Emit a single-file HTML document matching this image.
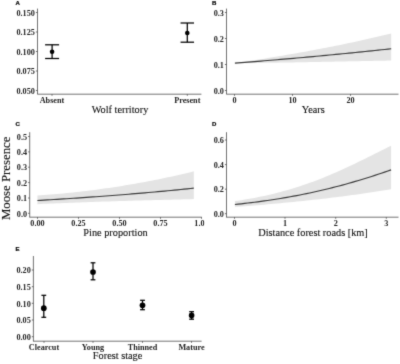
<!DOCTYPE html>
<html><head><meta charset="utf-8"><title>Figure</title>
<style>html,body{margin:0;padding:0;background:#fff;}svg{display:block;}</style></head>
<body><svg width="400" height="364" viewBox="0 0 400 364">
<defs><filter id="soft" x="0" y="0" width="400" height="364" filterUnits="userSpaceOnUse" color-interpolation-filters="sRGB"><feConvolveMatrix order="3" kernelMatrix="1 4 1 4 28 4 1 4 1" divisor="48" edgeMode="duplicate" preserveAlpha="true"/></filter></defs>
<rect width="400" height="364" fill="#fff"/>
<g filter="url(#soft)">
<rect width="400" height="364" fill="#fff"/>
<text x="15.5" y="5.3" font-size="6.05" text-anchor="start" font-weight="bold" font-family='"Liberation Sans", sans-serif' fill="#000" stroke="#000" stroke-width="0.2">A</text>
<text x="212" y="5.3" font-size="6.05" text-anchor="start" font-weight="bold" font-family='"Liberation Sans", sans-serif' fill="#000" stroke="#000" stroke-width="0.2">B</text>
<text x="15.5" y="126" font-size="6.05" text-anchor="start" font-weight="bold" font-family='"Liberation Sans", sans-serif' fill="#000" stroke="#000" stroke-width="0.2">C</text>
<text x="212" y="126" font-size="6.05" text-anchor="start" font-weight="bold" font-family='"Liberation Sans", sans-serif' fill="#000" stroke="#000" stroke-width="0.2">D</text>
<text x="15.5" y="251" font-size="6.05" text-anchor="start" font-weight="bold" font-family='"Liberation Sans", sans-serif' fill="#000" stroke="#000" stroke-width="0.2">E</text>
<line x1="37.5" y1="8.6" x2="37.5" y2="94" stroke="#444" stroke-width="0.75" />
<line x1="35.9" y1="12.5" x2="37.5" y2="12.5" stroke="#444" stroke-width="0.75" />
<text x="34.9" y="15.7" font-size="8.2" text-anchor="end" font-weight="bold" font-family='"Liberation Serif", serif' fill="#242424" >0.150</text>
<line x1="35.9" y1="32" x2="37.5" y2="32" stroke="#444" stroke-width="0.75" />
<text x="34.9" y="35.2" font-size="8.2" text-anchor="end" font-weight="bold" font-family='"Liberation Serif", serif' fill="#242424" >0.125</text>
<line x1="35.9" y1="51.5" x2="37.5" y2="51.5" stroke="#444" stroke-width="0.75" />
<text x="34.9" y="54.7" font-size="8.2" text-anchor="end" font-weight="bold" font-family='"Liberation Serif", serif' fill="#242424" >0.100</text>
<line x1="35.9" y1="71" x2="37.5" y2="71" stroke="#444" stroke-width="0.75" />
<text x="34.9" y="74.2" font-size="8.2" text-anchor="end" font-weight="bold" font-family='"Liberation Serif", serif' fill="#242424" >0.075</text>
<line x1="35.9" y1="90.5" x2="37.5" y2="90.5" stroke="#444" stroke-width="0.75" />
<text x="34.9" y="93.7" font-size="8.2" text-anchor="end" font-weight="bold" font-family='"Liberation Serif", serif' fill="#242424" >0.050</text>
<line x1="37.2" y1="94.2" x2="201.4" y2="94.2" stroke="#444" stroke-width="0.75" />
<line x1="52" y1="94.2" x2="52" y2="95.8" stroke="#444" stroke-width="0.75" />
<text x="52" y="102.7" font-size="8.2" text-anchor="middle" font-weight="bold" font-family='"Liberation Serif", serif' fill="#242424" >Absent</text>
<line x1="187.3" y1="94.2" x2="187.3" y2="95.8" stroke="#444" stroke-width="0.75" />
<text x="187.3" y="102.7" font-size="8.2" text-anchor="middle" font-weight="bold" font-family='"Liberation Serif", serif' fill="#242424" >Present</text>
<line x1="52.1" y1="44.8" x2="52.1" y2="58.5" stroke="#000" stroke-width="1.25" />
<line x1="45.1" y1="44.8" x2="59.1" y2="44.8" stroke="#000" stroke-width="1.25" />
<line x1="45.1" y1="58.5" x2="59.1" y2="58.5" stroke="#000" stroke-width="1.25" />
<circle cx="52.1" cy="51.8" r="2.3" fill="#000"/>
<line x1="187.3" y1="23" x2="187.3" y2="42.2" stroke="#000" stroke-width="1.25" />
<line x1="180.55" y1="23" x2="194.05" y2="23" stroke="#000" stroke-width="1.25" />
<line x1="180.55" y1="42.2" x2="194.05" y2="42.2" stroke="#000" stroke-width="1.25" />
<circle cx="187.3" cy="33" r="2.3" fill="#000"/>
<text transform="translate(120,112.8) scale(0.955,1)" font-size="10.8" text-anchor="middle" font-family='"Liberation Serif", serif' fill="#111" stroke="#111" stroke-width="0.12">Wolf territory</text>
<line x1="226.5" y1="8.6" x2="226.5" y2="94" stroke="#444" stroke-width="0.75" />
<line x1="224.9" y1="12.5" x2="226.5" y2="12.5" stroke="#444" stroke-width="0.75" />
<text x="223.9" y="15.7" font-size="8.2" text-anchor="end" font-weight="bold" font-family='"Liberation Serif", serif' fill="#242424" >0.3</text>
<line x1="224.9" y1="38.5" x2="226.5" y2="38.5" stroke="#444" stroke-width="0.75" />
<text x="223.9" y="41.7" font-size="8.2" text-anchor="end" font-weight="bold" font-family='"Liberation Serif", serif' fill="#242424" >0.2</text>
<line x1="224.9" y1="64.5" x2="226.5" y2="64.5" stroke="#444" stroke-width="0.75" />
<text x="223.9" y="67.7" font-size="8.2" text-anchor="end" font-weight="bold" font-family='"Liberation Serif", serif' fill="#242424" >0.1</text>
<line x1="224.9" y1="90.5" x2="226.5" y2="90.5" stroke="#444" stroke-width="0.75" />
<text x="223.9" y="93.7" font-size="8.2" text-anchor="end" font-weight="bold" font-family='"Liberation Serif", serif' fill="#242424" >0.0</text>
<line x1="226.2" y1="94.2" x2="398.5" y2="94.2" stroke="#444" stroke-width="0.75" />
<line x1="234.5" y1="94.2" x2="234.5" y2="95.8" stroke="#444" stroke-width="0.75" />
<text x="234.5" y="102.6" font-size="8.2" text-anchor="middle" font-weight="bold" font-family='"Liberation Serif", serif' fill="#242424" >0</text>
<line x1="292.5" y1="94.2" x2="292.5" y2="95.8" stroke="#444" stroke-width="0.75" />
<text x="292.5" y="102.6" font-size="8.2" text-anchor="middle" font-weight="bold" font-family='"Liberation Serif", serif' fill="#242424" >10</text>
<line x1="350.5" y1="94.2" x2="350.5" y2="95.8" stroke="#444" stroke-width="0.75" />
<text x="350.5" y="102.6" font-size="8.2" text-anchor="middle" font-weight="bold" font-family='"Liberation Serif", serif' fill="#242424" >20</text>
<path d="M234.90,62.85 L238.16,62.60 L241.41,62.35 L244.67,62.10 L247.93,61.35 L251.18,60.76 L254.44,60.22 L257.69,59.69 L260.95,59.16 L264.21,58.63 L267.46,58.11 L270.72,57.58 L273.98,57.05 L277.23,56.51 L280.49,55.97 L283.74,55.42 L287.00,54.87 L290.26,54.31 L293.51,53.75 L296.77,53.18 L300.02,52.60 L303.28,52.02 L306.54,51.43 L309.79,50.83 L313.05,50.22 L316.31,49.61 L319.56,49.00 L322.82,48.37 L326.07,47.74 L329.33,47.10 L332.59,46.45 L335.84,45.80 L339.10,45.13 L342.36,44.46 L345.61,43.79 L348.87,43.10 L352.12,42.41 L355.38,41.71 L358.64,41.00 L361.89,40.29 L365.15,39.57 L368.41,38.84 L371.66,38.10 L374.92,37.35 L378.17,36.60 L381.43,35.84 L384.69,35.07 L387.94,34.29 L391.20,33.51 L391.20,60.51 L387.94,60.57 L384.69,60.64 L381.43,60.71 L378.17,60.77 L374.92,60.84 L371.66,60.90 L368.41,60.97 L365.15,61.03 L361.89,61.10 L358.64,61.16 L355.38,61.22 L352.12,61.29 L348.87,61.35 L345.61,61.41 L342.36,61.48 L339.10,61.54 L335.84,61.60 L332.59,61.67 L329.33,61.73 L326.07,61.79 L322.82,61.85 L319.56,61.91 L316.31,61.97 L313.05,62.03 L309.79,62.09 L306.54,62.15 L303.28,62.21 L300.02,62.27 L296.77,62.32 L293.51,62.38 L290.26,62.43 L287.00,62.49 L283.74,62.54 L280.49,62.59 L277.23,62.64 L273.98,62.69 L270.72,62.74 L267.46,62.78 L264.21,62.82 L260.95,62.85 L257.69,62.87 L254.44,62.89 L251.18,62.88 L247.93,62.82 L244.67,62.60 L241.41,62.85 L238.16,63.10 L234.90,63.35Z" fill="#e4e4e4"/>
<path d="M234.90,63.10 L238.16,62.85 L241.41,62.60 L244.67,62.35 L247.93,62.09 L251.18,61.84 L254.44,61.58 L257.69,61.32 L260.95,61.06 L264.21,60.79 L267.46,60.52 L270.72,60.25 L273.98,59.98 L277.23,59.71 L280.49,59.43 L283.74,59.16 L287.00,58.88 L290.26,58.60 L293.51,58.31 L296.77,58.03 L300.02,57.74 L303.28,57.45 L306.54,57.15 L309.79,56.86 L313.05,56.56 L316.31,56.26 L319.56,55.96 L322.82,55.66 L326.07,55.35 L329.33,55.04 L332.59,54.73 L335.84,54.42 L339.10,54.10 L342.36,53.79 L345.61,53.47 L348.87,53.14 L352.12,52.82 L355.38,52.49 L358.64,52.16 L361.89,51.83 L365.15,51.50 L368.41,51.16 L371.66,50.82 L374.92,50.48 L378.17,50.14 L381.43,49.79 L384.69,49.45 L387.94,49.10 L391.20,48.74" fill="none" stroke="#3a3a3a" stroke-width="1.15"/>
<text transform="translate(313.3,112.6) scale(0.955,1)" font-size="10.8" text-anchor="middle" font-family='"Liberation Serif", serif' fill="#111" stroke="#111" stroke-width="0.12">Years</text>
<line x1="29.7" y1="132.2" x2="29.7" y2="217.2" stroke="#444" stroke-width="0.75" />
<line x1="28.099999999999998" y1="136.5" x2="29.7" y2="136.5" stroke="#444" stroke-width="0.75" />
<text x="27.099999999999998" y="139.7" font-size="8.2" text-anchor="end" font-weight="bold" font-family='"Liberation Serif", serif' fill="#242424" >0.5</text>
<line x1="28.099999999999998" y1="151.9" x2="29.7" y2="151.9" stroke="#444" stroke-width="0.75" />
<text x="27.099999999999998" y="155.1" font-size="8.2" text-anchor="end" font-weight="bold" font-family='"Liberation Serif", serif' fill="#242424" >0.4</text>
<line x1="28.099999999999998" y1="167.2" x2="29.7" y2="167.2" stroke="#444" stroke-width="0.75" />
<text x="27.099999999999998" y="170.39999999999998" font-size="8.2" text-anchor="end" font-weight="bold" font-family='"Liberation Serif", serif' fill="#242424" >0.3</text>
<line x1="28.099999999999998" y1="182.6" x2="29.7" y2="182.6" stroke="#444" stroke-width="0.75" />
<text x="27.099999999999998" y="185.79999999999998" font-size="8.2" text-anchor="end" font-weight="bold" font-family='"Liberation Serif", serif' fill="#242424" >0.2</text>
<line x1="28.099999999999998" y1="198" x2="29.7" y2="198" stroke="#444" stroke-width="0.75" />
<text x="27.099999999999998" y="201.2" font-size="8.2" text-anchor="end" font-weight="bold" font-family='"Liberation Serif", serif' fill="#242424" >0.1</text>
<line x1="28.099999999999998" y1="213.3" x2="29.7" y2="213.3" stroke="#444" stroke-width="0.75" />
<text x="27.099999999999998" y="216.5" font-size="8.2" text-anchor="end" font-weight="bold" font-family='"Liberation Serif", serif' fill="#242424" >0.0</text>
<line x1="29.4" y1="217.2" x2="201.8" y2="217.2" stroke="#444" stroke-width="0.75" />
<line x1="37.5" y1="217.2" x2="37.5" y2="218.79999999999998" stroke="#444" stroke-width="0.75" />
<text x="37.5" y="225.7" font-size="8.2" text-anchor="middle" font-weight="bold" font-family='"Liberation Serif", serif' fill="#242424" >0.00</text>
<line x1="78.5" y1="217.2" x2="78.5" y2="218.79999999999998" stroke="#444" stroke-width="0.75" />
<text x="78.5" y="225.7" font-size="8.2" text-anchor="middle" font-weight="bold" font-family='"Liberation Serif", serif' fill="#242424" >0.25</text>
<line x1="119.5" y1="217.2" x2="119.5" y2="218.79999999999998" stroke="#444" stroke-width="0.75" />
<text x="119.5" y="225.7" font-size="8.2" text-anchor="middle" font-weight="bold" font-family='"Liberation Serif", serif' fill="#242424" >0.50</text>
<line x1="160.5" y1="217.2" x2="160.5" y2="218.79999999999998" stroke="#444" stroke-width="0.75" />
<text x="160.5" y="225.7" font-size="8.2" text-anchor="middle" font-weight="bold" font-family='"Liberation Serif", serif' fill="#242424" >0.75</text>
<line x1="201.5" y1="217.2" x2="201.5" y2="218.79999999999998" stroke="#444" stroke-width="0.75" />
<text x="201.5" y="225.7" font-size="8.2" text-anchor="middle" font-weight="bold" font-family='"Liberation Serif", serif' fill="#242424" >1.00</text>
<path d="M37.40,195.57 L40.66,195.33 L43.92,195.09 L47.17,194.83 L50.43,194.57 L53.69,194.29 L56.95,194.00 L60.21,193.71 L63.47,193.40 L66.72,193.08 L69.98,192.75 L73.24,192.41 L76.50,192.06 L79.76,191.70 L83.02,191.33 L86.28,190.94 L89.53,190.54 L92.79,190.13 L96.05,189.71 L99.31,189.28 L102.57,188.83 L105.82,188.37 L109.08,187.90 L112.34,187.42 L115.60,186.93 L118.86,186.42 L122.12,185.90 L125.38,185.37 L128.63,184.83 L131.89,184.27 L135.15,183.70 L138.41,183.12 L141.67,182.53 L144.93,181.92 L148.18,181.30 L151.44,180.67 L154.70,180.03 L157.96,179.38 L161.22,178.71 L164.47,178.03 L167.73,177.34 L170.99,176.63 L174.25,175.92 L177.51,175.19 L180.77,174.45 L184.03,173.70 L187.28,172.94 L190.54,172.16 L193.80,171.37 L193.80,199.12 L190.54,199.19 L187.28,199.27 L184.03,199.35 L180.77,199.43 L177.51,199.51 L174.25,199.59 L170.99,199.67 L167.73,199.75 L164.47,199.83 L161.22,199.91 L157.96,199.99 L154.70,200.08 L151.44,200.16 L148.18,200.25 L144.93,200.34 L141.67,200.43 L138.41,200.51 L135.15,200.61 L131.89,200.70 L128.63,200.79 L125.38,200.89 L122.12,200.98 L118.86,201.08 L115.60,201.18 L112.34,201.28 L109.08,201.38 L105.82,201.49 L102.57,201.60 L99.31,201.70 L96.05,201.81 L92.79,201.93 L89.53,202.04 L86.28,202.16 L83.02,202.28 L79.76,202.40 L76.50,202.52 L73.24,202.65 L69.98,202.77 L66.72,202.90 L63.47,203.04 L60.21,203.17 L56.95,203.31 L53.69,203.44 L50.43,203.58 L47.17,203.73 L43.92,203.87 L40.66,204.01 L37.40,204.16Z" fill="#e4e4e4"/>
<path d="M37.40,200.51 L40.66,200.32 L43.92,200.13 L47.17,199.93 L50.43,199.74 L53.69,199.54 L56.95,199.34 L60.21,199.13 L63.47,198.93 L66.72,198.72 L69.98,198.51 L73.24,198.29 L76.50,198.07 L79.76,197.85 L83.02,197.63 L86.28,197.40 L89.53,197.18 L92.79,196.94 L96.05,196.71 L99.31,196.47 L102.57,196.23 L105.82,195.99 L109.08,195.74 L112.34,195.49 L115.60,195.24 L118.86,194.98 L122.12,194.72 L125.38,194.46 L128.63,194.20 L131.89,193.93 L135.15,193.66 L138.41,193.38 L141.67,193.10 L144.93,192.82 L148.18,192.54 L151.44,192.25 L154.70,191.96 L157.96,191.66 L161.22,191.36 L164.47,191.06 L167.73,190.76 L170.99,190.45 L174.25,190.14 L177.51,189.82 L180.77,189.50 L184.03,189.18 L187.28,188.85 L190.54,188.52 L193.80,188.19" fill="none" stroke="#3a3a3a" stroke-width="1.15"/>
<rect x="204.3" y="218.5" width="8" height="9" fill="#fff"/>
<text transform="translate(115.5,235.9) scale(0.955,1)" font-size="10.8" text-anchor="middle" font-family='"Liberation Serif", serif' fill="#111" stroke="#111" stroke-width="0.12">Pine proportion</text>
<line x1="226.5" y1="132.2" x2="226.5" y2="217.2" stroke="#444" stroke-width="0.75" />
<line x1="224.9" y1="140" x2="226.5" y2="140" stroke="#444" stroke-width="0.75" />
<text x="223.9" y="143.2" font-size="8.2" text-anchor="end" font-weight="bold" font-family='"Liberation Serif", serif' fill="#242424" >0.6</text>
<line x1="224.9" y1="164.6" x2="226.5" y2="164.6" stroke="#444" stroke-width="0.75" />
<text x="223.9" y="167.79999999999998" font-size="8.2" text-anchor="end" font-weight="bold" font-family='"Liberation Serif", serif' fill="#242424" >0.4</text>
<line x1="224.9" y1="189.2" x2="226.5" y2="189.2" stroke="#444" stroke-width="0.75" />
<text x="223.9" y="192.39999999999998" font-size="8.2" text-anchor="end" font-weight="bold" font-family='"Liberation Serif", serif' fill="#242424" >0.2</text>
<line x1="224.9" y1="213.7" x2="226.5" y2="213.7" stroke="#444" stroke-width="0.75" />
<text x="223.9" y="216.89999999999998" font-size="8.2" text-anchor="end" font-weight="bold" font-family='"Liberation Serif", serif' fill="#242424" >0.0</text>
<line x1="226.2" y1="217.2" x2="398.5" y2="217.2" stroke="#444" stroke-width="0.75" />
<line x1="234.5" y1="217.2" x2="234.5" y2="218.79999999999998" stroke="#444" stroke-width="0.75" />
<text x="234.5" y="225.7" font-size="8.2" text-anchor="middle" font-weight="bold" font-family='"Liberation Serif", serif' fill="#242424" >0</text>
<line x1="285" y1="217.2" x2="285" y2="218.79999999999998" stroke="#444" stroke-width="0.75" />
<text x="285" y="225.7" font-size="8.2" text-anchor="middle" font-weight="bold" font-family='"Liberation Serif", serif' fill="#242424" >1</text>
<line x1="335.7" y1="217.2" x2="335.7" y2="218.79999999999998" stroke="#444" stroke-width="0.75" />
<text x="335.7" y="225.7" font-size="8.2" text-anchor="middle" font-weight="bold" font-family='"Liberation Serif", serif' fill="#242424" >2</text>
<line x1="386.3" y1="217.2" x2="386.3" y2="218.79999999999998" stroke="#444" stroke-width="0.75" />
<text x="386.3" y="225.7" font-size="8.2" text-anchor="middle" font-weight="bold" font-family='"Liberation Serif", serif' fill="#242424" >3</text>
<path d="M234.90,201.12 L238.15,200.64 L241.41,200.14 L244.66,199.61 L247.92,199.06 L251.17,198.49 L254.43,197.89 L257.68,197.25 L260.93,196.60 L264.19,195.91 L267.44,195.19 L270.70,194.44 L273.95,193.66 L277.20,192.84 L280.46,192.00 L283.71,191.12 L286.97,190.21 L290.22,189.26 L293.48,188.28 L296.73,187.26 L299.98,186.21 L303.24,185.12 L306.49,184.00 L309.75,182.85 L313.00,181.66 L316.25,180.44 L319.51,179.18 L322.76,177.89 L326.02,176.57 L329.27,175.22 L332.52,173.84 L335.78,172.43 L339.03,170.99 L342.29,169.52 L345.54,168.03 L348.80,166.52 L352.05,164.99 L355.30,163.43 L358.56,161.86 L361.81,160.27 L365.07,158.67 L368.32,157.06 L371.58,155.44 L374.83,153.81 L378.08,152.18 L381.34,150.55 L384.59,148.92 L387.85,147.29 L391.10,145.66 L391.10,189.33 L387.85,189.85 L384.59,190.37 L381.34,190.87 L378.08,191.37 L374.83,191.86 L371.58,192.35 L368.32,192.82 L365.07,193.29 L361.81,193.75 L358.56,194.21 L355.30,194.66 L352.05,195.10 L348.80,195.53 L345.54,195.96 L342.29,196.38 L339.03,196.79 L335.78,197.20 L332.52,197.59 L329.27,197.99 L326.02,198.38 L322.76,198.76 L319.51,199.13 L316.25,199.50 L313.00,199.86 L309.75,200.22 L306.49,200.57 L303.24,200.91 L299.98,201.25 L296.73,201.59 L293.48,201.92 L290.22,202.24 L286.97,202.56 L283.71,202.87 L280.46,203.18 L277.20,203.49 L273.95,203.79 L270.70,204.08 L267.44,204.37 L264.19,204.66 L260.93,204.94 L257.68,205.22 L254.43,205.49 L251.17,205.76 L247.92,206.03 L244.66,206.29 L241.41,206.55 L238.15,206.80 L234.90,207.04Z" fill="#e4e4e4"/>
<path d="M234.90,204.51 L238.15,204.16 L241.41,203.81 L244.66,203.43 L247.92,203.05 L251.17,202.65 L254.43,202.24 L257.68,201.82 L260.93,201.38 L264.19,200.93 L267.44,200.47 L270.70,199.99 L273.95,199.49 L277.20,198.98 L280.46,198.45 L283.71,197.91 L286.97,197.35 L290.22,196.77 L293.48,196.18 L296.73,195.57 L299.98,194.94 L303.24,194.29 L306.49,193.63 L309.75,192.94 L313.00,192.24 L316.25,191.52 L319.51,190.79 L322.76,190.03 L326.02,189.25 L329.27,188.46 L332.52,187.64 L335.78,186.81 L339.03,185.96 L342.29,185.09 L345.54,184.20 L348.80,183.29 L352.05,182.36 L355.30,181.42 L358.56,180.46 L361.81,179.47 L365.07,178.48 L368.32,177.46 L371.58,176.43 L374.83,175.38 L378.08,174.31 L381.34,173.23 L384.59,172.13 L387.85,171.02 L391.10,169.90" fill="none" stroke="#3a3a3a" stroke-width="1.15"/>
<text transform="translate(313,235.7) scale(0.955,1)" font-size="10.8" text-anchor="middle" font-family='"Liberation Serif", serif' fill="#111" stroke="#111" stroke-width="0.12">Distance forest roads [km]</text>
<line x1="33.4" y1="256" x2="33.4" y2="341.2" stroke="#444" stroke-width="0.75" />
<line x1="31.799999999999997" y1="270" x2="33.4" y2="270" stroke="#444" stroke-width="0.75" />
<text x="30.799999999999997" y="273.2" font-size="8.2" text-anchor="end" font-weight="bold" font-family='"Liberation Serif", serif' fill="#242424" >0.20</text>
<line x1="31.799999999999997" y1="286.7" x2="33.4" y2="286.7" stroke="#444" stroke-width="0.75" />
<text x="30.799999999999997" y="289.9" font-size="8.2" text-anchor="end" font-weight="bold" font-family='"Liberation Serif", serif' fill="#242424" >0.15</text>
<line x1="31.799999999999997" y1="303.3" x2="33.4" y2="303.3" stroke="#444" stroke-width="0.75" />
<text x="30.799999999999997" y="306.5" font-size="8.2" text-anchor="end" font-weight="bold" font-family='"Liberation Serif", serif' fill="#242424" >0.10</text>
<line x1="31.799999999999997" y1="320" x2="33.4" y2="320" stroke="#444" stroke-width="0.75" />
<text x="30.799999999999997" y="323.2" font-size="8.2" text-anchor="end" font-weight="bold" font-family='"Liberation Serif", serif' fill="#242424" >0.05</text>
<line x1="31.799999999999997" y1="336.7" x2="33.4" y2="336.7" stroke="#444" stroke-width="0.75" />
<text x="30.799999999999997" y="339.9" font-size="8.2" text-anchor="end" font-weight="bold" font-family='"Liberation Serif", serif' fill="#242424" >0.00</text>
<line x1="33.1" y1="341.2" x2="201.6" y2="341.2" stroke="#444" stroke-width="0.75" />
<line x1="44" y1="341.2" x2="44" y2="342.8" stroke="#444" stroke-width="0.75" />
<text x="44" y="349.6" font-size="8.2" text-anchor="middle" font-weight="bold" font-family='"Liberation Serif", serif' fill="#242424" >Clearcut</text>
<line x1="93" y1="341.2" x2="93" y2="342.8" stroke="#444" stroke-width="0.75" />
<text x="93" y="349.6" font-size="8.2" text-anchor="middle" font-weight="bold" font-family='"Liberation Serif", serif' fill="#242424" >Young</text>
<line x1="142.5" y1="341.2" x2="142.5" y2="342.8" stroke="#444" stroke-width="0.75" />
<text x="142.5" y="349.6" font-size="8.2" text-anchor="middle" font-weight="bold" font-family='"Liberation Serif", serif' fill="#242424" >Thinned</text>
<line x1="191.5" y1="341.2" x2="191.5" y2="342.8" stroke="#444" stroke-width="0.75" />
<text x="191.5" y="349.6" font-size="8.2" text-anchor="middle" font-weight="bold" font-family='"Liberation Serif", serif' fill="#242424" >Mature</text>
<line x1="43.8" y1="295.3" x2="43.8" y2="317.3" stroke="#000" stroke-width="1.25" />
<line x1="41.4" y1="295.3" x2="46.199999999999996" y2="295.3" stroke="#000" stroke-width="1.25" />
<line x1="41.4" y1="317.3" x2="46.199999999999996" y2="317.3" stroke="#000" stroke-width="1.25" />
<circle cx="43.8" cy="308.2" r="2.85" fill="#000"/>
<line x1="93" y1="262.8" x2="93" y2="279.8" stroke="#000" stroke-width="1.25" />
<line x1="90.6" y1="262.8" x2="95.4" y2="262.8" stroke="#000" stroke-width="1.25" />
<line x1="90.6" y1="279.8" x2="95.4" y2="279.8" stroke="#000" stroke-width="1.25" />
<circle cx="93" cy="272" r="2.85" fill="#000"/>
<line x1="142.5" y1="300.3" x2="142.5" y2="309.7" stroke="#000" stroke-width="1.25" />
<line x1="140.1" y1="300.3" x2="144.9" y2="300.3" stroke="#000" stroke-width="1.25" />
<line x1="140.1" y1="309.7" x2="144.9" y2="309.7" stroke="#000" stroke-width="1.25" />
<circle cx="142.5" cy="305.3" r="2.85" fill="#000"/>
<line x1="191.6" y1="311.7" x2="191.6" y2="319.2" stroke="#000" stroke-width="1.25" />
<line x1="189.2" y1="311.7" x2="194.0" y2="311.7" stroke="#000" stroke-width="1.25" />
<line x1="189.2" y1="319.2" x2="194.0" y2="319.2" stroke="#000" stroke-width="1.25" />
<circle cx="191.6" cy="315.4" r="2.8" fill="#000"/>
<text transform="translate(117.6,359.3) scale(0.955,1)" font-size="10.8" text-anchor="middle" font-family='"Liberation Serif", serif' fill="#111" stroke="#111" stroke-width="0.12">Forest stage</text>
<text transform="translate(10.3,178.3) rotate(-90) scale(0.963,1)" font-size="13.3" text-anchor="middle" font-family='"Liberation Serif", serif' fill="#111" stroke="#111" stroke-width="0.12">Moose Presence</text>
</g>
</svg></body></html>
